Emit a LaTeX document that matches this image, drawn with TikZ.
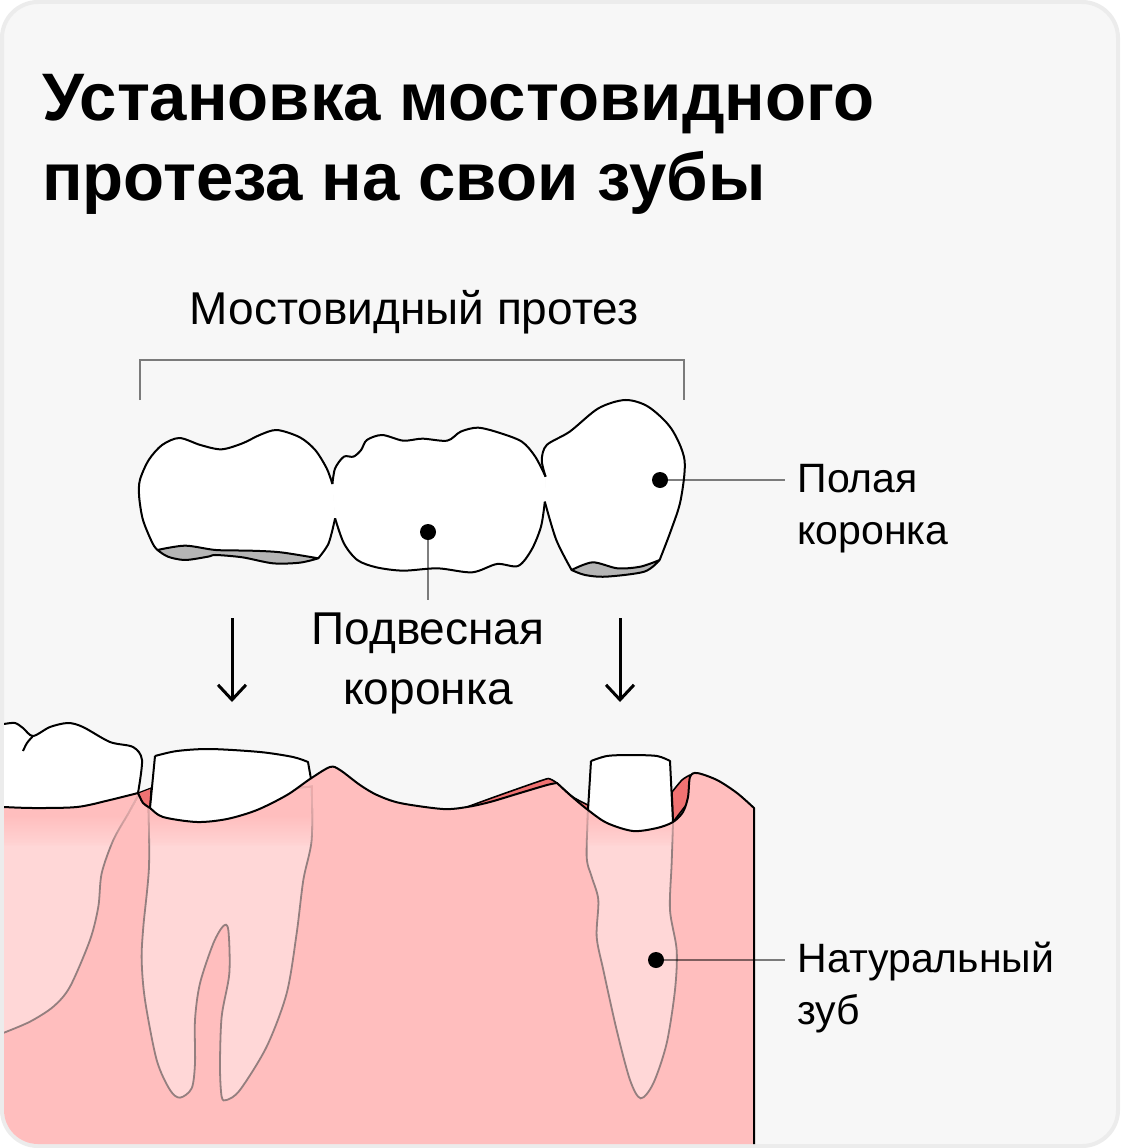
\documentclass[tikz,border=0pt]{standalone}
\usepackage{fontspec}
\setmainfont{Liberation Sans}
\usetikzlibrary{arrows.meta}
\definecolor{panelbg}{HTML}{F7F7F7}
\definecolor{panelrim}{HTML}{ECECEC}
\definecolor{gumpink}{HTML}{FFBEBE}
\definecolor{rootpink}{HTML}{FFD7D7}
\definecolor{gumred}{HTML}{F07272}
\definecolor{capgray}{HTML}{B5B5B5}
\definecolor{rootline}{HTML}{947F7F}
\newcommand{\gumedge}{(4,807) -- plot[smooth] coordinates {(4,807) (33,808) (77,807) (110,800) (138,793)}
    -- plot[smooth] coordinates {(138,793) (143,803) (150,808) (163,817) (197,822) (227,819) (257,810) (287,795) (310,779) (330,767) (340,770) (360,785) (377,795) (400,803) (443,809) (467,807) (490,802) (520,793) (547,785) (557,783)}
    -- plot[smooth] coordinates {(557,783) (570,795) (588,810) (607,823) (633,831) (657,828) (673,822) (683,812) (688,797) (690,777) (697,773) (717,780) (737,793) (754,808)}}
\tikzset{
    titletext/.style={anchor=base west,font=\fontsize{67.2}{80}\selectfont\bfseries},
    labeltext/.style={font=\fontsize{41}{52}\selectfont},
    biglabel/.style={font=\fontsize{46}{60}\selectfont},
    markdot/.style={circle,fill=black,inner sep=0pt,minimum size=16pt},
    leader/.style={black,opacity=.5,line width=1.6pt},
    outline/.style={black,line width=2pt,line join=round},
    rootshape/.style={fill=rootpink,draw=rootline,line width=1.8pt},
    droparrow/.style={-{Straight Barb[length=15pt,width=28pt]},line width=3pt}
}
\begin{document}
\begin{tikzpicture}[x=1pt,y=-1pt]
\useasboundingbox (0,0) rectangle (1120,1148);
\fill[white] (0,0) rectangle (1120,1148);
\draw[panelrim,fill=panelbg,line width=4pt,rounded corners=36pt] (2,2) rectangle (1118,1146);

\node[titletext] (titleone) at (38.5,120) {Установка мостовидного};
\node[titletext] (titletwo) at (38.5,200) {протеза на свои зубы};
\node[biglabel,anchor=base] (bridgelabel) at (414,324) {Мостовидный протез};
\node[labeltext,anchor=base west] (hollowone) at (794,492) {Полая};
\node[labeltext,anchor=base west] (hollowtwo) at (794,544) {коронка};
\node[biglabel,anchor=base] (hangone) at (428,644) {Подвесная};
\node[biglabel,anchor=base] (hangtwo) at (428,704) {коронка};
\node[labeltext,anchor=base west] (natone) at (794,972) {Натуральный};
\node[labeltext,anchor=base west] (nattwo) at (794,1024) {зуб};

% bracket
\coordinate (bracketl) at (140,400);
\coordinate (bracketr) at (684,400);
\draw[leader] (bracketl) -- (140,360) -- (684,360) -- (bracketr);

% bridge
\begin{scope}[x=0.3827pt,y=-1/3*1pt,shift={(313.6,1140)}]
\fill[white] plot[smooth] coordinates {(555,312) (540,265) (510,210) (470,172) (410,150) (365,165) (320,190) (265,208) (210,195) (155,174) (110,195) (75,240) (52,300) (50,350) (60,420) (85,490) (98,510)}
    -- plot[smooth] coordinates {(98,510) (300,530) (518,535) (545,490) (562,415)} -- cycle;
\fill[white] (555,312) -- plot[smooth] coordinates {(555,312) (562,265) (585,230) (610,230) (630,210) (645,180) (685,165) (740,182) (790,176) (855,182) (890,155) (935,143) (990,158) (1050,185) (1085,230) (1112,290)}
    -- (1110,365) -- plot[smooth] coordinates {(1110,365) (1100,440) (1075,510) (1040,558) (985,552) (920,577) (830,565) (740,572) (670,562) (620,540) (585,490) (562,415)} -- cycle;
\fill[white] (1112,290) -- plot[smooth] coordinates {(1112,290) (1102,240) (1115,195) (1175,155) (1250,85) (1320,60) (1380,80) (1440,145) (1475,240) (1465,360) (1440,450) (1410,540)}
    -- plot[smooth] coordinates {(1410,540) (1300,565) (1180,570)} -- plot[smooth] coordinates {(1180,570) (1140,480) (1110,365)} -- cycle;
\draw[outline] plot[smooth] coordinates {(555,312) (540,265) (510,210) (470,172) (410,150) (365,165) (320,190) (265,208) (210,195) (155,174) (110,195) (75,240) (52,300) (50,350) (60,420) (85,490) (98,510)};
\draw[outline,fill=capgray] plot[smooth] coordinates {(98,510) (125,530) (170,540) (230,530) (250,525) (320,532) (400,550) (470,548) (518,535)}
    -- plot[smooth] coordinates {(518,535) (420,517) (340,512) (250,510) (170,497) (98,510)} -- cycle;
\draw[outline] plot[smooth] coordinates {(518,535) (545,490) (562,415)};
\draw[outline] plot[smooth] coordinates {(555,312) (562,265) (585,230) (610,230) (630,210) (645,180) (685,165) (740,182) (790,176) (855,182) (890,155) (935,143) (990,158) (1050,185) (1085,230) (1112,290)};
\draw[outline] plot[smooth] coordinates {(562,415) (585,490) (620,540) (670,562) (740,572) (830,565) (920,577) (985,552) (1040,558) (1075,510) (1100,440) (1110,365)};
\draw[outline] plot[smooth] coordinates {(1112,290) (1102,240) (1115,195) (1175,155) (1250,85) (1320,60) (1380,80) (1440,145) (1475,240) (1465,360) (1440,450) (1410,540)};
\draw[outline] plot[smooth] coordinates {(1110,365) (1140,480) (1180,570)};
\draw[outline,fill=capgray] plot[smooth] coordinates {(1180,570) (1215,585) (1270,590) (1370,575) (1410,540)}
    -- plot[smooth] coordinates {(1410,540) (1360,560) (1300,565) (1235,547) (1180,570)} -- cycle;
\end{scope}

% arrows
\coordinate (leftfrom) at (232,618);
\coordinate (leftto) at (232,702);
\coordinate (rightfrom) at (620,618);
\coordinate (rightto) at (620,702);
\draw[droparrow] (leftfrom) -- (leftto);
\draw[droparrow] (rightfrom) -- (rightto);

% jaw
\begin{scope}
\clip[rounded corners=34pt] (4,4) rectangle (1116,1144);
\fill[white] (4,723) -- plot[smooth] coordinates {(4,724) (15,723) (23,728) (33,736) (50,727) (68,723) (83,727) (110,742) (133,747) (142,760) (138,793)} -- (138,810) -- (4,810) -- cycle;
\draw[outline] plot[smooth] coordinates {(4,724) (15,723) (23,728) (33,736) (50,727) (68,723) (83,727) (110,742) (133,747) (142,760) (138,793)};
\draw[outline] plot[smooth] coordinates {(23,751) (27,743) (33,736)};
% red gum behind
\draw[outline,fill=gumred,line width=1.2pt] (138,793) -- (151,788) -- (150,808) -- (143,803) -- cycle;
\draw[outline,fill=gumred,line width=1.6pt] plot[smooth] coordinates {(467,807) (500,795) (543,780) (550,779) (557,783)} -- plot[smooth] coordinates {(557,783) (573,797) (588,805)} -- (588,812) -- (557,785) -- (467,809) -- cycle;
\draw[outline,fill=gumred,line width=1.6pt] plot[smooth] coordinates {(672,792) (682,780) (690,775)} -- (690,800) -- (673,822) -- cycle;
% gum
\fill[gumpink] \gumedge -- (754,1148) -- (0,1148) -- (0,807) -- cycle;
\begin{scope}
\clip \gumedge -- (754,1148) -- (0,1148) -- (0,807) -- cycle;
% roots
\begin{scope}[x=1/3*1pt,y=-1/3*1pt,shift={(0,2100)}]
\draw[rootshape] (-9,1007) -- plot[smooth] coordinates {(12,998) (90,965) (160,920) (210,860) (270,720) (295,620) (305,520) (340,420) (385,340) (415,285)} -- (415,270) -- (-9,270) -- cycle;
\draw[rootshape] plot[smooth] coordinates {(445,300) (447,500) (430,680) (425,780) (435,900) (470,1080) (510,1170) (540,1193) (575,1165) (585,1090) (585,960) (600,850) (640,730) (670,678) (685,690) (688,820) (665,950) (660,1100) (665,1190) (680,1200) (720,1170) (800,1040) (860,880) (890,700) (910,540) (935,420) (935,260)} -- cycle;
\end{scope}
\begin{scope}[x=1/3*1pt,y=-1/3*1pt,shift={(1200,2190)}]
\draw[rootshape] plot[smooth] coordinates {(565,220) (560,380) (575,440) (595,510) (590,620) (610,720) (650,900) (690,1050) (722,1105) (760,1060) (800,940) (825,780) (830,660) (810,540) (815,400) (820,255)} -- cycle;
\end{scope}
% top of the roots fades into the gum
\foreach \k [evaluate={\y=790+1.4*\k;}] in {1,...,40}{
    \fill[gumpink,opacity=.05] (0,785) rectangle (760,\y);
}
\end{scope}
% stumps
\fill[white] (150,808) -- (155,756) -- plot[smooth] coordinates {(155,756) (177,751) (210,749) (260,752) (293,757) (308,762)} -- (311,779) -- plot[smooth] coordinates {(311,779) (287,795) (257,810) (227,819) (197,822) (163,817) (150,808)} -- cycle;
\draw[outline] (150,808) -- (155,756) plot[smooth] coordinates {(155,756) (177,751) (210,749) (260,752) (293,757) (308,762)} -- (311,779);
\fill[white] (588,810) -- (591,761) -- plot[smooth] coordinates {(591,761) (607,756) (630,755) (657,756) (670,761)} -- (673,822) -- plot[smooth] coordinates {(673,822) (657,828) (633,831) (607,823) (588,810)} -- cycle;
\draw[outline] (588,810) -- (591,761) plot[smooth] coordinates {(591,761) (607,756) (630,755) (657,756) (670,761)} -- (673,822);
% gum edge
\draw[outline] \gumedge -- (754,1148);
\end{scope}

% dots and leaders
\node[markdot] (crowndot) at (660,480) {};
\node[markdot] (hangdot) at (428,532) {};
\node[markdot] (rootdot) at (656,960) {};
\coordinate (crownend) at (785,480);
\coordinate (hangend) at (428,600);
\coordinate (rootend) at (785,960);
\draw[leader] (crowndot) -- (crownend);
\draw[leader] (hangdot) -- (hangend);
\draw[leader] (rootdot) -- (rootend);
\end{tikzpicture}
\end{document}
